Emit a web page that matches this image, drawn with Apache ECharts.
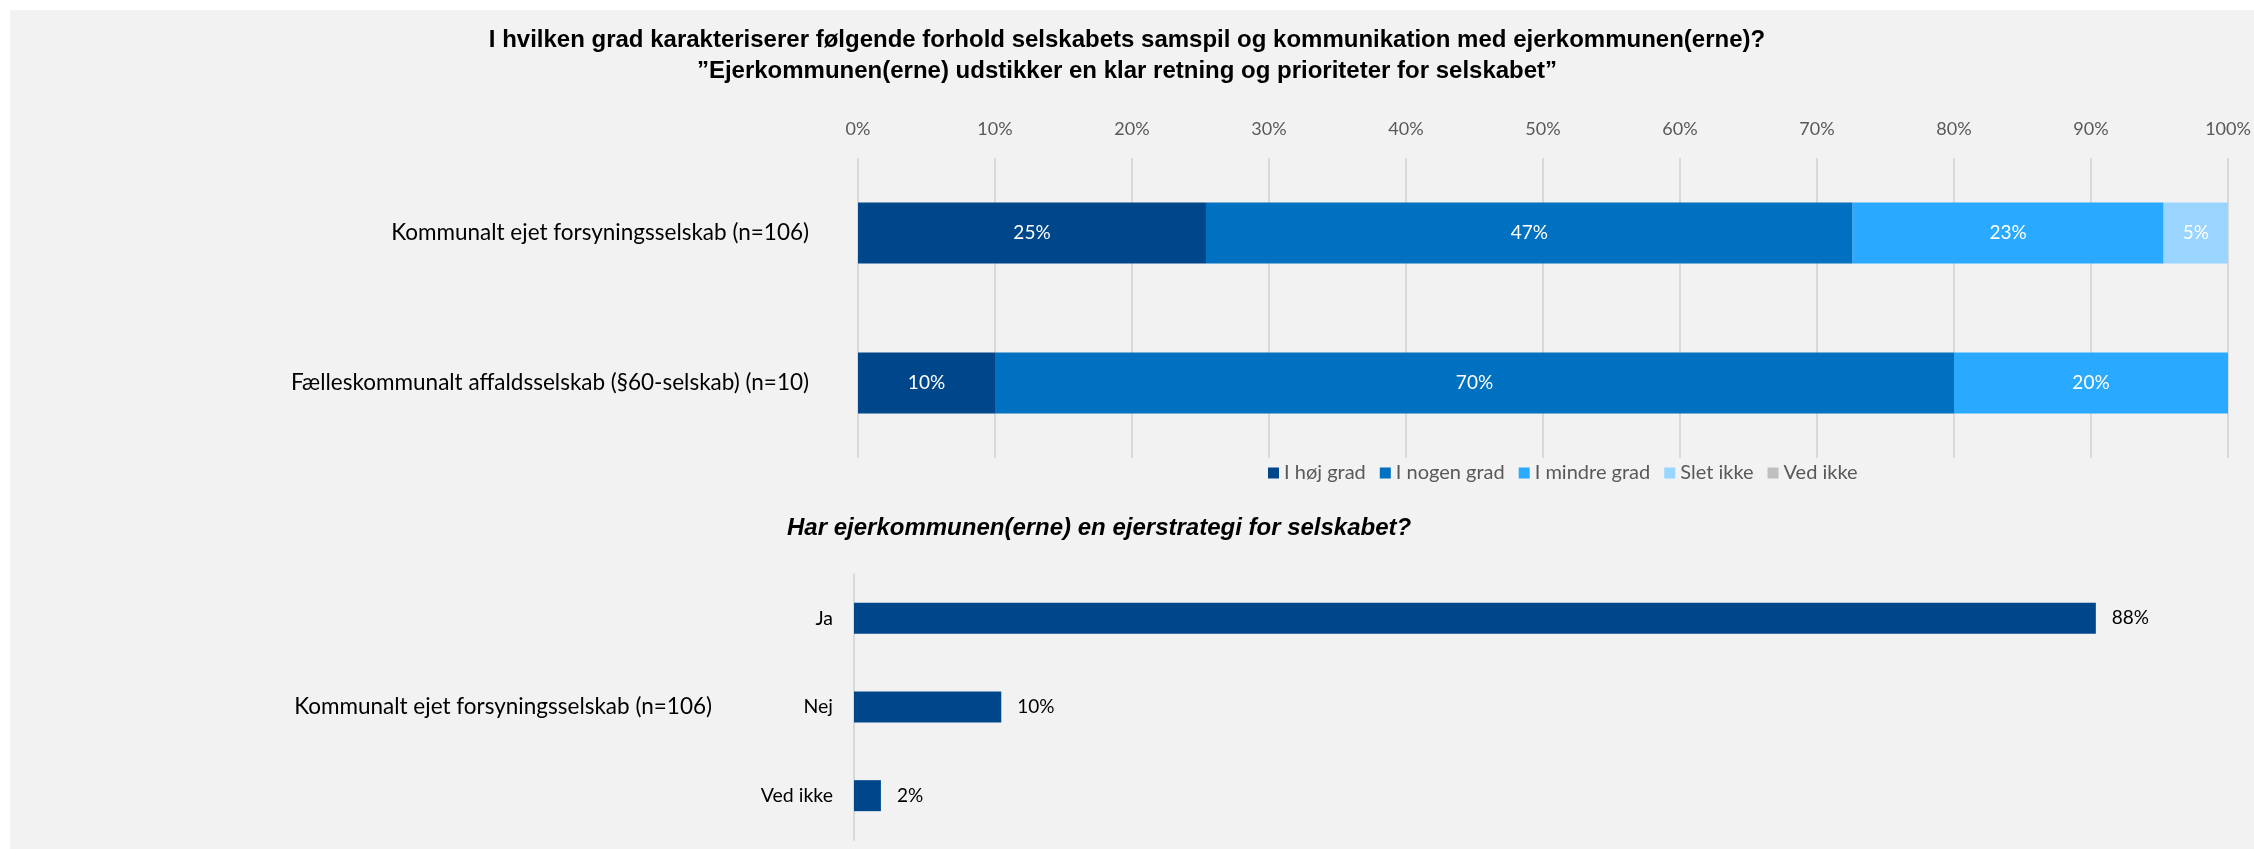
<!DOCTYPE html>
<html>
<head>
<meta charset="utf-8">
<title>Ejerkommunen(erne)</title>
<script src="https://cdn.jsdelivr.net/npm/echarts@6/dist/echarts.min.js"></script>
<style>
  html, body { margin: 0; padding: 0; background: #fff; }
  #chart {
    width: 2254px; height: 849px;
    background: linear-gradient(#f2f2f2, #f2f2f2) 10px 10px / 100% 100% no-repeat, #fff;
  }
</style>
</head>
<body>
<div id="chart"></div>
<script>
  // øverste diagram: fordeling af svar pr. selskabstype (pct.)
  const topCategories = ['Kommunalt ejet forsyningsselskab (n=106)', 'Fælleskommunalt affaldsselskab (§60-selskab) (n=10)'];
  const answerNames = ['I høj grad', 'I nogen grad', 'I mindre grad', 'Slet ikke', 'Ved ikke'];
  const hoejGrad = [25.4, 10];
  const nogenGrad = [47.2, 70];
  const mindreGrad = [22.7, 20];
  const sletIkke = [4.7, 0];
  const vedIkke = [0, 0];
  const answerColors = ['#00468b', '#0070c0', '#29a9ff', '#99d5ff', '#bfbfbf'];
  const xTicks = [0, 10, 20, 30, 40, 50, 60, 70, 80, 90, 100];

  // nederste diagram: ejerstrategi
  const groupLabel = ['Kommunalt ejet forsyningsselskab (n=106)'];
  const strategyCategories = ['Ja', 'Nej', 'Ved ikke'];
  const strategyValues = [87.7, 10.4, 1.9];

  const bodyFont = 'Lato';
  const titleFont = 'Liberation Sans';

  let myChart = echarts.init(document.getElementById('chart'), null, {renderer: 'canvas'});

  const pct = p => (p.value ? Math.round(p.value) + '%' : '');

  let stackSeries = [hoejGrad, nogenGrad, mindreGrad, sletIkke, vedIkke].map((arr, i) => ({
    name: answerNames[i],
    type: 'bar',
    stack: 'total',
    xAxisIndex: 0,
    yAxisIndex: 0,
    barWidth: 61,
    itemStyle: {color: answerColors[i]},
    label: {
      show: true,
      position: 'inside',
      color: '#fff',
      fontFamily: bodyFont,
      fontSize: 19,
      formatter: pct
    },
    data: arr
  }));

  let option = {
    backgroundColor: 'transparent',
    animation: false,
    title: [
      {
        text: 'I hvilken grad karakteriserer følgende forhold selskabets samspil og kommunikation med ejerkommunen(erne)?',
        left: 'center', top: 23,
        textStyle: {fontFamily: titleFont, fontWeight: 'bold', fontSize: 24, color: '#000'}
      },
      {
        text: '”Ejerkommunen(erne) udstikker en klar retning og prioriteter for selskabet”',
        left: 'center', top: 54,
        textStyle: {fontFamily: titleFont, fontWeight: 'bold', fontSize: 24, color: '#000'}
      },
      {
        text: 'Har ejerkommunen(erne) en ejerstrategi for selskabet?',
        left: 782, top: 511,
        textStyle: {fontFamily: titleFont, fontWeight: 'bold', fontStyle: 'italic', fontSize: 24, color: '#000'}
      }
    ],
    legend: {
      data: answerNames,
      left: 1263, top: 458,
      icon: 'rect',
      itemWidth: 11, itemHeight: 11, itemGap: 14,
      textStyle: {fontFamily: bodyFont, fontSize: 20, color: '#595959'}
    },
    grid: [
      {left: 858, right: 26, top: 158, height: 300, outerBoundsMode: 'none'},
      {left: 854, right: -16, top: 574, height: 266, outerBoundsMode: 'none'}
    ],
    xAxis: [
      {
        type: 'value', gridIndex: 0, position: 'top',
        min: 0, max: 100, interval: 10,
        axisLine: {show: false}, axisTick: {show: false},
        splitLine: {lineStyle: {color: '#d9d9d9', width: 2}},
        axisLabel: {
          margin: 20, color: '#595959', fontFamily: bodyFont, fontSize: 18,
          formatter: v => (xTicks.indexOf(v) >= 0 ? v + '%' : '')
        }
      },
      {
        type: 'value', gridIndex: 1, min: 0, max: 100, show: false
      }
    ],
    yAxis: [
      {
        type: 'category', gridIndex: 0, data: topCategories, inverse: true,
        axisLine: {show: false}, axisTick: {show: false},
        axisLabel: {margin: 49, color: '#000', fontFamily: bodyFont, fontSize: 22.5}
      },
      {
        type: 'category', gridIndex: 1, data: strategyCategories, inverse: true,
        axisLine: {show: true, lineStyle: {color: '#d9d9d9', width: 2}},
        axisTick: {show: false},
        axisLabel: {margin: 21, color: '#000', fontFamily: bodyFont, fontSize: 19.5}
      },
      {
        type: 'category', gridIndex: 1, data: groupLabel, position: 'left', offset: 130,
        axisLine: {show: false}, axisTick: {show: false},
        axisLabel: {margin: 12, color: '#000', fontFamily: bodyFont, fontSize: 22.5}
      }
    ],
    series: stackSeries.concat([
      {
        name: 'Ejerstrategi',
        type: 'bar',
        xAxisIndex: 1,
        yAxisIndex: 1,
        barWidth: 31,
        itemStyle: {color: '#00468b'},
        label: {
          show: true, position: 'right', distance: 16,
          color: '#000', fontFamily: bodyFont, fontSize: 19,
          formatter: pct
        },
        data: strategyValues
      }
    ])
  };

  myChart.setOption(option);
</script>
</body>
</html>
